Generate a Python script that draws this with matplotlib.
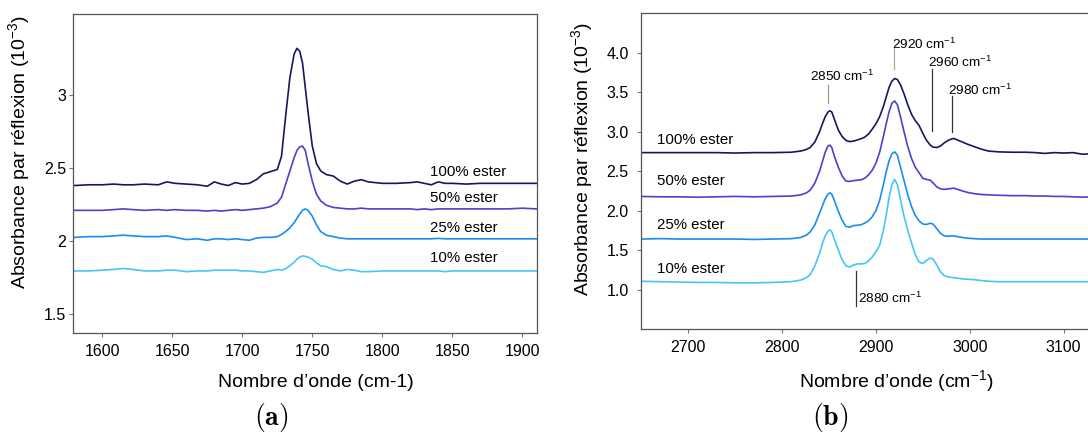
import matplotlib
matplotlib.use('Agg')
import matplotlib.pyplot as plt
import matplotlib.ticker as ticker

plt.rcParams['font.family'] = ['Liberation Sans', 'DejaVu Sans']
plt.rcParams['mathtext.fontset'] = 'custom'
plt.rcParams['mathtext.rm'] = 'Liberation Sans'
plt.rcParams['mathtext.it'] = 'Liberation Sans:italic'
plt.rcParams['mathtext.bf'] = 'Liberation Sans:bold'
plt.rcParams['mathtext.sf'] = 'Liberation Sans'

############################## data ######################
labels = ['100% ester', '50% ester', '25% ester', '10% ester']
colors = ['#17175e', '#4a42cc', '#1b8cf2', '#45c6f7']

# (a) carbonyl region
wn_a = [1580, 1590, 1600, 1608, 1615, 1622, 1630, 1640, 1646, 1652, 1660,
        1668, 1675, 1680, 1685, 1690, 1695, 1700, 1705, 1710, 1715, 1720,
        1725, 1728, 1731, 1734, 1737, 1739, 1741, 1743, 1745, 1747, 1750,
        1753, 1756, 1760, 1765, 1770, 1775, 1780, 1785, 1790, 1800, 1810,
        1820, 1825, 1830, 1835, 1840, 1845, 1850, 1860, 1870, 1880, 1890,
        1900, 1910]
a_100 = [2.380, 2.385, 2.385, 2.390, 2.385, 2.385, 2.390, 2.385, 2.405, 2.395,
         2.390, 2.385, 2.375, 2.405, 2.390, 2.380, 2.400, 2.390, 2.395, 2.420,
         2.460, 2.475, 2.490, 2.580, 2.860, 3.120, 3.280, 3.320, 3.300, 3.220,
         3.050, 2.880, 2.650, 2.530, 2.480, 2.455, 2.445, 2.410, 2.390, 2.410,
         2.420, 2.405, 2.395, 2.395, 2.400, 2.405, 2.395, 2.385, 2.405, 2.395,
         2.395, 2.390, 2.395, 2.395, 2.395, 2.395, 2.395]
a_50 = [2.210, 2.210, 2.210, 2.215, 2.220, 2.215, 2.210, 2.215, 2.210, 2.215,
        2.210, 2.210, 2.205, 2.210, 2.205, 2.210, 2.215, 2.210, 2.215, 2.220,
        2.225, 2.235, 2.260, 2.300, 2.390, 2.480, 2.570, 2.620, 2.645, 2.650,
        2.620, 2.530, 2.410, 2.320, 2.275, 2.245, 2.230, 2.225, 2.220, 2.220,
        2.225, 2.220, 2.220, 2.220, 2.220, 2.215, 2.220, 2.215, 2.220, 2.220,
        2.220, 2.220, 2.220, 2.220, 2.220, 2.225, 2.220]
a_25 = [2.025, 2.030, 2.030, 2.035, 2.040, 2.035, 2.030, 2.030, 2.035, 2.025,
        2.010, 2.015, 2.005, 2.015, 2.015, 2.010, 2.015, 2.010, 2.005, 2.020,
        2.025, 2.025, 2.030, 2.045, 2.065, 2.090, 2.125, 2.155, 2.185, 2.210,
        2.220, 2.210, 2.170, 2.110, 2.065, 2.040, 2.030, 2.020, 2.015, 2.015,
        2.015, 2.015, 2.015, 2.015, 2.015, 2.015, 2.015, 2.015, 2.018, 2.015,
        2.015, 2.015, 2.015, 2.015, 2.015, 2.015, 2.015]
a_10 = [1.795, 1.795, 1.800, 1.805, 1.812, 1.805, 1.795, 1.795, 1.800, 1.800,
        1.790, 1.795, 1.795, 1.800, 1.800, 1.800, 1.800, 1.795, 1.795, 1.790,
        1.785, 1.795, 1.805, 1.800, 1.810, 1.830, 1.855, 1.875, 1.890, 1.898,
        1.895, 1.890, 1.875, 1.850, 1.830, 1.825, 1.805, 1.795, 1.805, 1.800,
        1.790, 1.790, 1.795, 1.795, 1.795, 1.795, 1.795, 1.795, 1.795, 1.790,
        1.795, 1.795, 1.795, 1.795, 1.795, 1.795, 1.795]

# (b) C-H stretching region
wn_b = [2650, 2670, 2690, 2710, 2730, 2750, 2770, 2790, 2810, 2820, 2826,
        2830, 2835, 2840, 2843, 2846, 2849, 2851, 2853, 2856, 2860, 2864,
        2868, 2872, 2876, 2880, 2884, 2888, 2892, 2896, 2900, 2904, 2908,
        2911, 2914, 2917, 2920, 2923, 2926, 2930, 2934, 2938, 2942, 2946,
        2950, 2954, 2958, 2961, 2965, 2969, 2973, 2977, 2980, 2983, 2987,
        2992, 2998, 3005, 3012, 3020, 3030, 3045, 3060, 3070, 3080, 3090,
        3100, 3110, 3120, 3130]
b_100 = [2.735, 2.735, 2.735, 2.735, 2.735, 2.730, 2.735, 2.735, 2.740, 2.755,
         2.775, 2.800, 2.870, 3.000, 3.100, 3.190, 3.250, 3.265, 3.250, 3.150,
         3.020, 2.940, 2.890, 2.875, 2.880, 2.895, 2.910, 2.930, 2.970, 3.030,
         3.100, 3.190, 3.320, 3.440, 3.560, 3.640, 3.675, 3.660, 3.600, 3.480,
         3.340, 3.220, 3.140, 3.080, 2.980, 2.890, 2.830, 2.805, 2.800, 2.820,
         2.860, 2.890, 2.905, 2.915, 2.895, 2.870, 2.840, 2.810, 2.780, 2.755,
         2.745, 2.740, 2.740, 2.735, 2.725, 2.735, 2.730, 2.735, 2.715, 2.720]
b_50 = [2.180, 2.175, 2.175, 2.170, 2.175, 2.180, 2.175, 2.180, 2.185, 2.200,
        2.225, 2.260, 2.350, 2.500, 2.620, 2.740, 2.820, 2.830, 2.800, 2.680,
        2.550, 2.440, 2.375, 2.370, 2.380, 2.385, 2.390, 2.410, 2.450, 2.510,
        2.600, 2.740, 2.940, 3.100, 3.250, 3.360, 3.390, 3.340, 3.200, 3.000,
        2.810, 2.660, 2.550, 2.480, 2.410, 2.395, 2.385, 2.350, 2.300, 2.275,
        2.270, 2.275, 2.280, 2.285, 2.270, 2.250, 2.230, 2.215, 2.205, 2.200,
        2.195, 2.190, 2.190, 2.185, 2.185, 2.180, 2.180, 2.175, 2.170, 2.175]
b_25 = [1.640, 1.645, 1.640, 1.640, 1.640, 1.640, 1.635, 1.640, 1.645, 1.660,
        1.690, 1.730, 1.820, 1.970, 2.060, 2.150, 2.210, 2.225, 2.210, 2.120,
        1.990, 1.880, 1.800, 1.790, 1.810, 1.815, 1.820, 1.840, 1.870, 1.920,
        2.000, 2.130, 2.330, 2.490, 2.630, 2.720, 2.745, 2.700, 2.560, 2.380,
        2.200, 2.050, 1.940, 1.870, 1.830, 1.825, 1.840, 1.830, 1.770, 1.710,
        1.680, 1.675, 1.680, 1.680, 1.670, 1.660, 1.650, 1.645, 1.640, 1.640,
        1.640, 1.640, 1.640, 1.640, 1.640, 1.640, 1.640, 1.640, 1.640, 1.640]
b_10 = [1.105, 1.100, 1.095, 1.090, 1.090, 1.085, 1.085, 1.090, 1.100, 1.120,
        1.150, 1.190, 1.300, 1.460, 1.580, 1.680, 1.740, 1.755, 1.730, 1.630,
        1.500, 1.380, 1.300, 1.285, 1.310, 1.325, 1.325, 1.330, 1.360, 1.410,
        1.480, 1.560, 1.750, 1.940, 2.160, 2.330, 2.395, 2.330, 2.150, 1.930,
        1.750, 1.590, 1.440, 1.350, 1.330, 1.370, 1.400, 1.385, 1.310, 1.220,
        1.175, 1.160, 1.155, 1.150, 1.145, 1.135, 1.130, 1.125, 1.115, 1.105,
        1.100, 1.100, 1.100, 1.100, 1.100, 1.100, 1.100, 1.100, 1.100, 1.100]

# peak annotations of (b): label, wavenumber, line bottom, line top
peak_names = ['2850', '2920', '2960', '2980', '2880']
peak_wn = [2849.3, 2919.6, 2960.0, 2980.7, 2878.8]
peak_lo = [3.37, 3.79, 3.01, 3.00, 0.795]
peak_hi = [3.59, 4.057, 3.80, 3.453, 1.24]


def style_axes(ax, ypad):
    for side in ['left', 'right', 'top', 'bottom']:
        ax.spines[side].set_color('#555555')
        ax.spines[side].set_linewidth(0.9)
    ax.tick_params(axis='both', direction='out', length=3, width=0.8,
                   color='#777777', labelsize=11.5, labelcolor='black')
    ax.tick_params(axis='x', pad=5)
    ax.tick_params(axis='y', pad=ypad)


def plot_carbonyl(fig, ax):
    series = [a_100, a_50, a_25, a_10]
    for vals, col in zip(series, colors):
        ax.plot(wn_a, vals, color=col, linewidth=1.2)

    for lab, y in zip(labels, [2.473, 2.295, 2.089, 1.884]):
        ax.text(1834, y, lab, fontsize=10.8, ha='left', va='center')

    ax.set_xlim(1579.3, 1910.3)
    ax.set_ylim(1.372, 3.553)
    ax.xaxis.set_major_locator(ticker.MultipleLocator(50))
    ax.set_yticks([1.5, 2, 2.5, 3])
    ax.set_yticklabels(['1.5', '2', '2.5', '3'])
    style_axes(ax, 2)

    ax.set_xlabel("Nombre d\u2019onde (cm-1)", fontsize=14, va='baseline')
    ax.xaxis.set_label_coords(0.523, -0.1705)
    ax.set_ylabel('Absorbance par r\u00e9flexion (10$^{-3}$)', fontsize=14)
    ax.yaxis.set_label_coords(-0.089, 0.568)
    return ax


def plot_ch(fig, ax):
    series = [b_100, b_50, b_25, b_10]
    for vals, col in zip(series, colors):
        ax.plot(wn_b, vals, color=col, linewidth=1.2)

    for lab, y in zip(labels, [2.896, 2.377, 1.82, 1.26]):
        ax.text(2667, y, lab, fontsize=10.8, ha='left', va='center')

    # peak markers
    text_pos = [(2829.8, 3.70), (2916.8, 4.11), (2955.8, 3.88),
                (2977.1, 3.52), (2881.2, 0.892)]
    line_cols = ['#999999', '#aaaaaa', '#333333', '#333333', '#333333']
    for name, x, lo, hi, (tx, ty), lc in zip(peak_names, peak_wn, peak_lo,
                                             peak_hi, text_pos, line_cols):
        ax.plot([x, x], [lo, hi], color=lc, linewidth=0.9)
        ax.text(tx, ty, name + ' cm$^{-1}$', fontsize=9.7,
                ha='left', va='center')

    ax.set_xlim(2650, 3130.2)
    ax.set_ylim(0.5, 4.5)
    ax.xaxis.set_major_locator(ticker.MultipleLocator(100))
    ax.set_yticks([1.0, 1.5, 2.0, 2.5, 3.0, 3.5, 4.0])
    ax.yaxis.set_major_formatter(ticker.FormatStrFormatter('%.1f'))
    style_axes(ax, 6)

    ax.set_xlabel("Nombre d\u2019onde (cm$^{-1}$)", fontsize=14, va='baseline')
    ax.xaxis.set_label_coords(0.567, -0.1837)
    ax.set_ylabel('Absorbance par r\u00e9flexion (10$^{-3}$)', fontsize=14)
    ax.yaxis.set_label_coords(-0.103, 0.54)
    return ax


def main():
    fig = plt.figure(figsize=(10.88, 4.37), dpi=100)
    ax_a = fig.add_axes([0.0674, 0.2387, 0.4259, 0.7286])
    ax_b = fig.add_axes([0.5894, 0.2471, 0.4142, 0.7224])
    plot_carbonyl(fig, ax_a)
    plot_ch(fig, ax_b)

    # sub-figure captions in a LaTeX-like face
    fig.text(271.5 / 1088, 1 - 417 / 437, r'$\mathbf{(a)}$', fontsize=20,
             ha='center', va='center', math_fontfamily='cm')
    fig.text(830 / 1088, 1 - 417 / 437, r'$\mathbf{(b)}$', fontsize=20,
             ha='center', va='center', math_fontfamily='cm')

    fig.savefig('out.png', dpi=100)


if __name__ == '__main__':
    main()
